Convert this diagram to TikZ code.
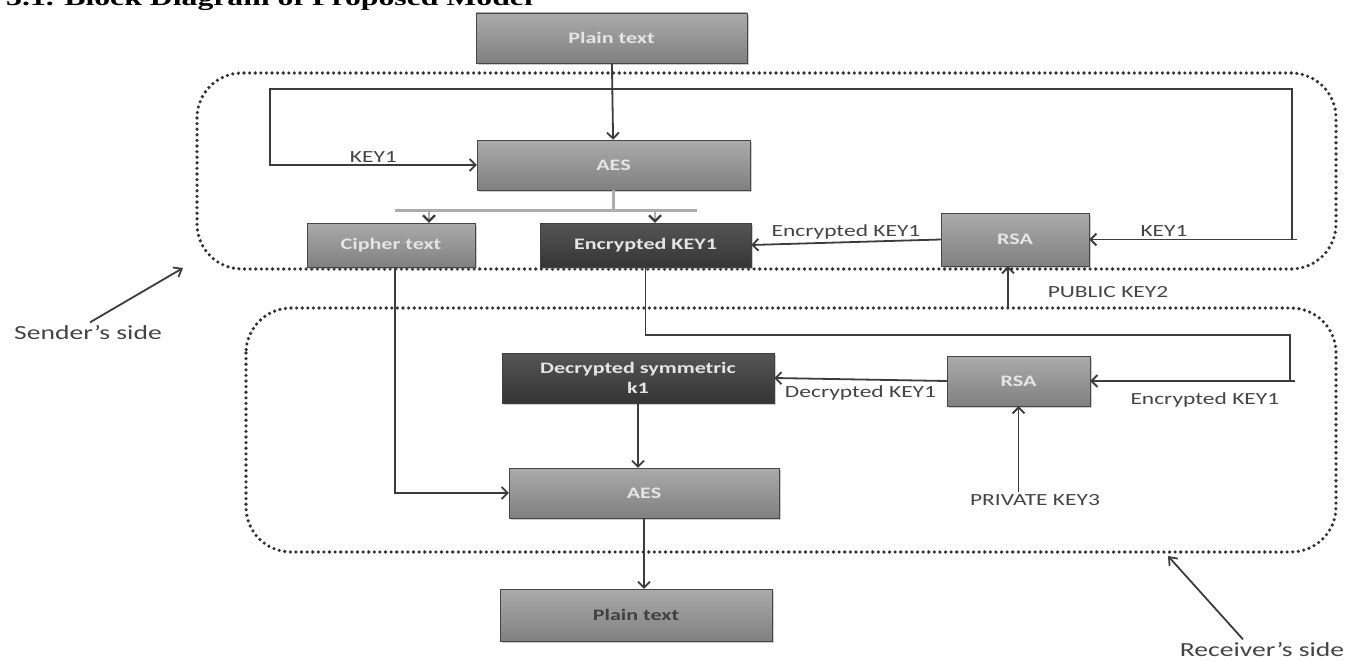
\documentclass[tikz,border=0pt]{standalone}
\usepackage{fontspec}
\setmainfont{Liberation Serif}
\newfontfamily\lblfont[FakeStretch=1.38]{Carlito}
\newfontfamily\headfont[FakeStretch=1.38]{Liberation Serif}
\usetikzlibrary{arrows.meta,shadows}

\definecolor{boxtop}{HTML}{ABABAB}
\definecolor{boxbot}{HTML}{808080}
\definecolor{darktop}{HTML}{555555}
\definecolor{darkbot}{HTML}{353535}
\definecolor{linegray}{HTML}{3C3C3C}
\definecolor{lblgray}{HTML}{444444}

\tikzset{
  blk/.style={draw=gray!55!black, top color=boxtop, bottom color=boxbot, inner sep=0pt,
    drop shadow={opacity=0.4, shadow xshift=2pt, shadow yshift=-2pt},
    text=white!90!black, font=\lblfont\bfseries\fontsize{16}{20}\selectfont, align=center},
  darkblk/.style={blk, top color=darktop, bottom color=darkbot, draw=black!75},
  lbl/.style={text=lblgray, font=\lblfont\fontsize{17}{20}\selectfont, inner sep=2pt},
  sidetxt/.style={text=lblgray, font=\lblfont\fontsize{20}{24}\selectfont},
  headtxt/.style={font=\headfont\bfseries\fontsize{23}{26}\selectfont, inner sep=0pt},
  sidebox/.style={draw=black!80, line width=3.6pt, dash pattern=on 0pt off 5.6pt,
    line cap=round, rounded corners=45pt},
  plain/.style={draw=linegray, line width=1.8pt},
  conn/.style={plain, -{Straight Barb[length=6pt,width=12pt]}},
  bar/.style={draw=gray!65, line width=3pt},
  branch/.style={draw=gray!65, line width=2.2pt, -{Straight Barb[length=6pt,width=12pt,color=linegray]}},
  pointer/.style={draw=linegray, line width=1.8pt, -{Straight Barb[length=7pt,width=11pt]}}
}

\begin{document}
\begin{tikzpicture}[x=1pt,y=-1pt]
\useasboundingbox (0,0) rectangle (1365,661);
% heading, cut at the top
\node[headtxt, anchor=base west] (head) at (6,6) {3.1. Block Diagram of Proposed Model};
% sender's and receiver's sides
\draw[sidebox] (197,73) rectangle (1336,269);
\draw[sidebox] (246,308) rectangle (1336,552);
% blocks
\node[blk, minimum width=271pt, minimum height=50pt] (ptop) at (611.5,38) {Plain text};
\node[blk, minimum width=273pt, minimum height=50pt] (aes1) at (613.5,165) {AES};
\node[blk, minimum width=168pt, minimum height=44pt] (cipher) at (391,245) {Cipher text};
\node[darkblk, minimum width=211pt, minimum height=44pt] (enc) at (645.5,245) {Encrypted KEY1};
\node[blk, minimum width=148pt, minimum height=53pt] (rsa1) at (1015,239.5) {RSA};
\node[darkblk, minimum width=272pt, minimum height=50pt] (dec) at (638,378) {Decrypted symmetric\\k1};
\node[blk, minimum width=143pt, minimum height=50pt] (rsa2) at (1018.5,381) {RSA};
\node[blk, minimum width=270pt, minimum height=50pt] (aes2) at (644,493) {AES};
\node[blk, minimum width=272pt, minimum height=52pt, text=black!75] (pbot) at (636,615) {Plain text};
% free labels
\node[lbl] (pub2) at (1108,292) {PUBLIC KEY2};
\node[lbl] (priv3) at (1035,500) {PRIVATE KEY3};
\node[sidetxt] (sside) at (88,333) {Sender’s side};
\node[sidetxt] (rside) at (1262,650) {Receiver’s side};
% turning points
\coordinate (kin) at (1297,239.5);
\coordinate (ktop) at (1292,89);
\coordinate (kleft) at (270,89);
\coordinate (bl) at (395,210);
\coordinate (br) at (697,210);
\coordinate (ca) at (429,210);
\coordinate (ea) at (655,210);
\coordinate (pk) at (1008,308);
\coordinate (eturn) at (1290,335);
\coordinate (ein) at (1295,381);
\coordinate (sa) at (183,268);
\coordinate (ra) at (1168,556);
% sender
\draw[conn] (ptop) -- (aes1);
\draw[conn] (kin) -- node[lbl, above, pos=0.64] {KEY1} (rsa1.east);
\draw[conn] (ktop |- kin) -- (ktop) -- (kleft) |- node[lbl, above, pos=0.75] {KEY1} (aes1.west);
\draw[bar] (aes1.south) -- (aes1.south |- bl);
\draw[bar] (bl) -- (br);
\draw[branch] (ca) -- (ca |- cipher.north);
\draw[branch] (ea) -- (ea |- enc.north);
\draw[conn] (rsa1.west) -- node[lbl, above] {Encrypted KEY1} (enc.east);
\draw[conn] (pk) -- (pk |- rsa1.south);
% receiver
\draw[plain] (enc.south) |- (eturn) -- (eturn |- ein);
\draw[conn] (ein) -- node[lbl, below=9pt, pos=0.44] {Encrypted KEY1} (rsa2.east);
\draw[conn] (rsa2.west) -- node[lbl, below=3pt] {Decrypted KEY1} (dec.east);
\draw[conn] (rsa2.south |- priv3.north) -- (rsa2.south);
\draw[conn] (dec.south) -- (dec.south |- aes2.north);
\draw[conn] ([xshift=4pt]cipher.south) |- (aes2.west);
\draw[conn] (aes2.south) -- (aes2.south |- pbot.north);
% side pointers
\draw[pointer] ([xshift=2pt]sside.north) -- (sa);
\draw[pointer] ([xshift=-19pt]rside.north) -- (ra);
\end{tikzpicture}
\end{document}
